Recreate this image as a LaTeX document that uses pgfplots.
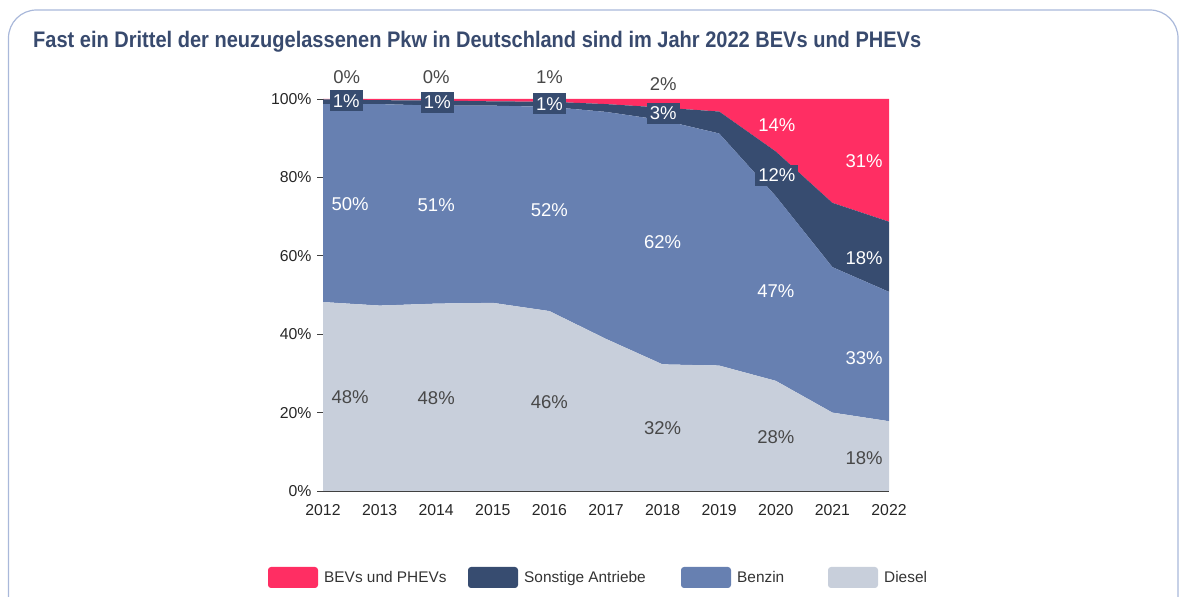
\documentclass[border=0pt]{standalone}
\usepackage{pgfplots}
\pgfplotsset{compat=1.18}
\usepackage{pgfplotstable}
\usepackage{fontspec}
\setmainfont{Liberation Sans}
\newfontfamily\titlefont[FakeStretch=0.89]{Liberation Sans}

\definecolor{bev}{HTML}{FF2E63}
\definecolor{sonst}{HTML}{374C70}
\definecolor{benzin}{HTML}{6780B1}
\definecolor{diesel}{HTML}{C8CFDB}
\definecolor{titlecol}{HTML}{384A6E}
\definecolor{labgray}{HTML}{484848}
\definecolor{axgray}{HTML}{404040}
\definecolor{framecol}{HTML}{A9B8DA}

\tikzset{
  lab/.style={font=\fontsize{18.5}{21}\selectfont, inner sep=0pt},
  dlab/.style={lab, text=labgray},
  wlab/.style={lab, text=white},
  blab/.style={lab, text=white, fill=sonst, inner xsep=3pt, inner ysep=4pt},
  leg/.style={anchor=base west, inner sep=0pt, text=black!80, font=\fontsize{15.4}{18}\selectfont},
}

% Anteile an Neuzulassungen in %
\pgfplotstableread{
year diesel benzin sonst bev
2012 48.2 50.5 1.2 0.1
2013 47.3 51.4 1.0 0.3
2014 47.8 50.5 1.3 0.4
2015 48.0 50.3 1.1 0.6
2016 45.9 52.1 1.3 0.7
2017 38.8 57.9 2.0 1.3
2018 32.3 62.3 3.2 2.2
2019 32.0 59.2 5.6 3.2
2020 28.1 47.1 11.4 13.4
2021 20.0 37.1 16.4 26.5
2022 17.8 33.0 17.9 31.3
}\shares

\begin{document}
\begin{tikzpicture}
\path[use as bounding box] (0pt,0pt) rectangle (1186pt,597pt);
\draw[framecol, line width=1.2pt, rounded corners=28pt] (8.5pt,587pt) -- (1178pt,587pt) -- (1178pt,-40pt) -- (8.5pt,-40pt) -- cycle;

\node[anchor=base west, inner sep=0pt, text=titlecol, font=\titlefont\bfseries\fontsize{22.5}{26}\selectfont]
  at (33pt,549pt) {Fast ein Drittel der neuzugelassenen Pkw in Deutschland sind im Jahr 2022 BEVs und PHEVs};

\begin{axis}[
  at={(323pt,106pt)}, anchor=south west,
  scale only axis, width=566pt, height=392pt,
  xmin=2012, xmax=2022, ymin=0, ymax=100,
  stack plots=y,
  axis lines*=left,
  axis line style={axgray, line width=0.9pt},
  clip=false,
  xtick={2012,2013,...,2022},
  ytick={0,20,...,100},
  yticklabel={\pgfmathprintnumber{\tick}\%},
  /pgf/number format/1000 sep={},
  tick align=outside,
  major tick length=6pt,
  ytick style={axgray, line width=0.9pt},
  xtick style={draw=none},
  xticklabel style={yshift=-4pt},
  yticklabel style={xshift=-2pt},
  ticklabel style={font=\fontsize{15.8}{18}\selectfont, text=black!85},
  /pgf/number format/assume math mode=true,
]
\addplot[fill=diesel, draw=none] table[x=year, y=diesel] {\shares} \closedcycle;
\addplot[fill=benzin, draw=none] table[x=year, y=benzin] {\shares} \closedcycle;
\addplot[fill=sonst, draw=none] table[x=year, y=sonst] {\shares} \closedcycle;
\addplot[fill=bev, draw=none] table[x=year, y=bev] {\shares} \closedcycle;

% Positionen der Beschriftungen
\coordinate (d1) at (axis cs:2012.48,24.0);
\coordinate (d2) at (axis cs:2014,23.7);
\coordinate (d3) at (axis cs:2016,22.7);
\coordinate (d4) at (axis cs:2018,16.1);
\coordinate (d5) at (axis cs:2020,13.8);
\coordinate (d6) at (axis cs:2021.56,8.4);
\coordinate (b1) at (axis cs:2012.48,73.2);
\coordinate (b2) at (axis cs:2014,73.0);
\coordinate (b3) at (axis cs:2016,71.7);
\coordinate (b4) at (axis cs:2018,63.5);
\coordinate (b5) at (axis cs:2020,51.0);
\coordinate (b6) at (axis cs:2021.56,33.9);
\coordinate (s1) at (axis cs:2012.41,99.5);
\coordinate (s2) at (axis cs:2014.02,99.2);
\coordinate (s3) at (axis cs:2016,98.8);
\coordinate (s4) at (axis cs:2018.01,96.4);
\coordinate (s5) at (axis cs:2020.02,80.6);
\coordinate (s6) at (axis cs:2021.56,59.4);
\coordinate (e1) at (axis cs:2012.42,105.6);
\coordinate (e2) at (axis cs:2014,105.6);
\coordinate (e3) at (axis cs:2016,105.6);
\coordinate (e4) at (axis cs:2018.01,103.8);
\coordinate (e5) at (axis cs:2020.02,93.4);
\coordinate (e6) at (axis cs:2021.56,84.2);
\end{axis}

% Diesel
\node[dlab] at (d1) {48\%};
\node[dlab] at (d2) {48\%};
\node[dlab] at (d3) {46\%};
\node[dlab] at (d4) {32\%};
\node[dlab] at (d5) {28\%};
\node[dlab] at (d6) {18\%};
% Benzin
\node[wlab] at (b1) {50\%};
\node[wlab] at (b2) {51\%};
\node[wlab] at (b3) {52\%};
\node[wlab] at (b4) {62\%};
\node[wlab] at (b5) {47\%};
\node[wlab] at (b6) {33\%};
% Sonstige
\node[blab] at (s1) {1\%};
\node[blab] at (s2) {1\%};
\node[blab] at (s3) {1\%};
\node[blab] at (s4) {3\%};
\node[blab] at (s5) {12\%};
\node[wlab] at (s6) {18\%};
% BEVs und PHEVs
\node[dlab] at (e1) {0\%};
\node[dlab] at (e2) {0\%};
\node[dlab] at (e3) {1\%};
\node[dlab] at (e4) {2\%};
\node[wlab] at (e5) {14\%};
\node[wlab] at (e6) {31\%};

% Legende
\fill[bev, rounded corners=3pt] (268pt,9pt) rectangle (318pt,30pt);
\node[leg] at (324pt,14pt) {BEVs und PHEVs};
\fill[sonst, rounded corners=3pt] (468pt,9pt) rectangle (518pt,30pt);
\node[leg] at (524pt,14pt) {Sonstige Antriebe};
\fill[benzin, rounded corners=3pt] (681pt,9pt) rectangle (731pt,30pt);
\node[leg] at (737pt,14pt) {Benzin};
\fill[diesel, rounded corners=3pt] (828pt,9pt) rectangle (878pt,30pt);
\node[leg] at (884pt,14pt) {Diesel};
\end{tikzpicture}
\end{document}
